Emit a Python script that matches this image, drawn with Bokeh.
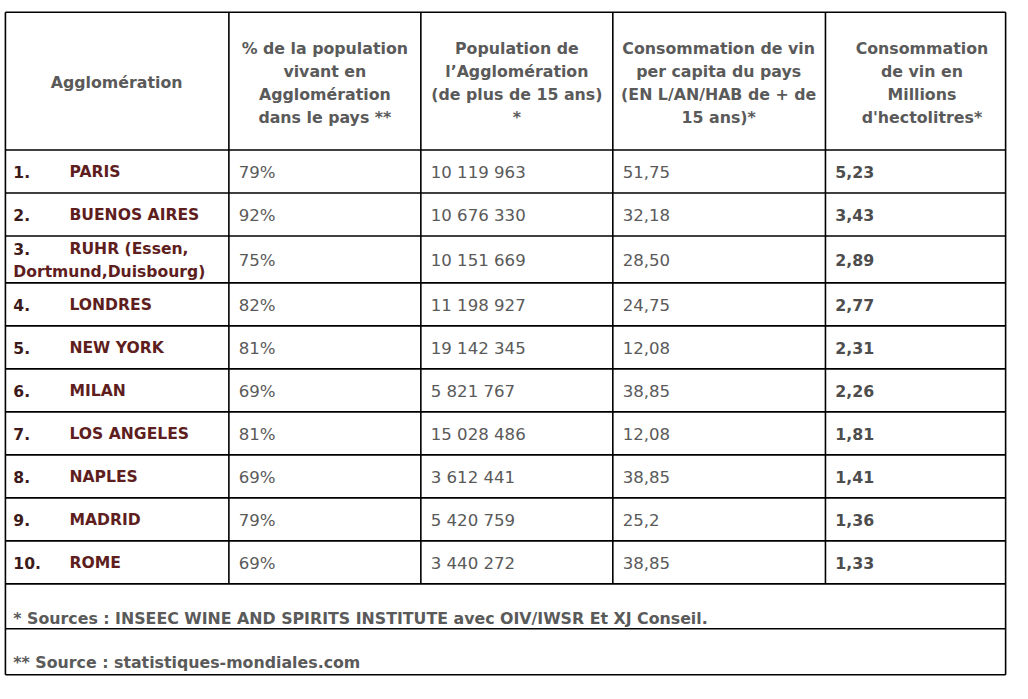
from bokeh.plotting import figure
from bokeh.models import Range1d, ColumnDataSource
from bokeh.core.properties import value
from bokeh.embed import file_html
from bokeh.resources import INLINE

# ---------------- data ----------------
header_aggl = "Agglomération"
header_cols = [
    ["% de la population", "vivant en", "Agglomération", "dans le pays **"],
    ["Population de", "l\u2019Agglomération", "(de plus de 15 ans)", "*"],
    ["Consommation de vin", "per capita du pays", "(EN L/AN/HAB de + de", "15 ans)*"],
    ["Consommation", "de vin en", "Millions", "d'hectolitres*"],
]
ranks = ["1.", "2.", "3.", "4.", "5.", "6.", "7.", "8.", "9.", "10."]
cities = ["PARIS", "BUENOS AIRES", "RUHR (Essen,", "LONDRES", "NEW YORK",
          "MILAN", "LOS ANGELES", "NAPLES", "MADRID", "ROME"]
city_extra = ["", "", "Dortmund,Duisbourg)", "", "", "", "", "", "", ""]
pct_pop = ["79%", "92%", "75%", "82%", "81%", "69%", "81%", "69%", "79%", "69%"]
population = ["10 119 963", "10 676 330", "10 151 669", "11 198 927", "19 142 345",
              "5 821 767", "15 028 486", "3 612 441", "5 420 759", "3 440 272"]
conso_per_capita = ["51,75", "32,18", "28,50", "24,75", "12,08",
                    "38,85", "12,08", "38,85", "25,2", "38,85"]
conso_millions_hl = ["5,23", "3,43", "2,89", "2,77", "2,31",
                     "2,26", "1,81", "1,41", "1,36", "1,33"]
footnotes = ["* Sources : INSEEC WINE AND SPIRITS INSTITUTE avec OIV/IWSR Et XJ Conseil.",
             "** Source : statistiques-mondiales.com"]

# ---------------- layout ----------------
W, H = 1012, 683
FONT = "DejaVu Sans"
GRAY = "#5a5a5a"
MAROON = "#5e1e1e"
DARK = "#3d1a1a"

x_left, x_right = 5, 1021
col_edges = [x_left, 232, 427, 622, 838, x_right]
top = 12
header_h = 141
row_h = [44, 44, 48, 44, 44, 44, 44, 44, 44, 44]
foot_h = [46, 47]

row_edges = [top, top + header_h]
for h in row_h:
    row_edges.append(row_edges[-1] + h)
body_bottom = row_edges[-1]
foot_edges = [body_bottom]
for h in foot_h:
    foot_edges.append(foot_edges[-1] + h)
bottom = foot_edges[-1]

p = figure(width=W, height=H, output_backend="svg", toolbar_location=None,
           x_range=Range1d(0, 1028), y_range=Range1d(699, 0),
           min_border=0, border_fill_color="white", background_fill_color="white")
p.axis.visible = False
p.grid.visible = False
p.outline_line_color = None

# grid lines
hx0, hy0, hx1, hy1 = [], [], [], []
for y in row_edges + foot_edges[1:]:
    hx0.append(x_left); hx1.append(x_right); hy0.append(y); hy1.append(y)
for i, x in enumerate(col_edges):
    y_end = bottom if i in (0, len(col_edges) - 1) else body_bottom
    hx0.append(x); hx1.append(x); hy0.append(top); hy1.append(y_end)
p.segment(hx0, hy0, hx1, hy1, line_color="black", line_width=1.6)

# header
LS = 23.5
hc = (top + row_edges[1]) / 2
p.text(x=[118], y=[hc + 1.5], text=[header_aggl],
       text_font=value(FONT), text_font_size="15.8px", text_font_style="bold",
       text_color=GRAY, text_align="center", text_baseline="middle")
centers = [329.5, 524.5, 729.5, 936]
hx, hy, ht = [], [], []
for c, lines in zip(centers, header_cols):
    n = len(lines)
    for k, t in enumerate(lines):
        hx.append(c)
        hy.append(hc + 1.5 + (k - (n - 1) / 2) * LS)
        ht.append(t)
p.text(x=hx, y=hy, text=ht, text_font=value(FONT), text_font_size="15.8px",
       text_font_style="bold", text_color=GRAY, text_align="center",
       text_baseline="middle")

# body rows
yc = [(row_edges[i + 1] + row_edges[i + 2]) / 2 + 1 for i in range(len(ranks))]
y_first = [yc[i] - 12 if city_extra[i] else yc[i] for i in range(len(ranks))]

src = ColumnDataSource(dict(y=yc, yf=y_first, rank=ranks, city=cities,
                            pct=pct_pop, pop=population, cpc=conso_per_capita,
                            cm=conso_millions_hl))
common = dict(text_font=value(FONT), text_baseline="middle", text_align="left", source=src)
p.text(x=13, y="yf", text="rank", text_font_size="15.6px", text_font_style="bold",
       text_color=DARK, **common)
p.text(x=70, y="yf", text="city", text_font_size="15.6px", text_font_style="bold",
       text_color=MAROON, **common)
p.text(x=242, y="y", text="pct", text_font_size="16.6px", text_color=GRAY, **common)
p.text(x=437, y="y", text="pop", text_font_size="16.6px", text_color=GRAY, **common)
p.text(x=632, y="y", text="cpc", text_font_size="16.6px", text_color=GRAY, **common)
p.text(x=848, y="y", text="cm", text_font_size="15.8px", text_font_style="bold",
       text_color="#4d4d4d", **common)

ex_x, ex_y, ex_t = [], [], []
for i, t in enumerate(city_extra):
    if t:
        ex_x.append(13); ex_y.append(yc[i] + 12); ex_t.append(t)
p.text(x=ex_x, y=ex_y, text=ex_t, text_font=value(FONT), text_font_size="15.6px",
       text_font_style="bold", text_color=MAROON, text_align="left",
       text_baseline="middle")

# footnotes
fy = [foot_edges[1] - 11, foot_edges[2] - 12]
p.text(x=[13, 13], y=fy, text=footnotes, text_font=value(FONT), text_font_size="15.8px",
       text_font_style="bold", text_color=GRAY, text_align="left",
       text_baseline="middle")

open("out.html", "w").write(file_html(p, INLINE))
